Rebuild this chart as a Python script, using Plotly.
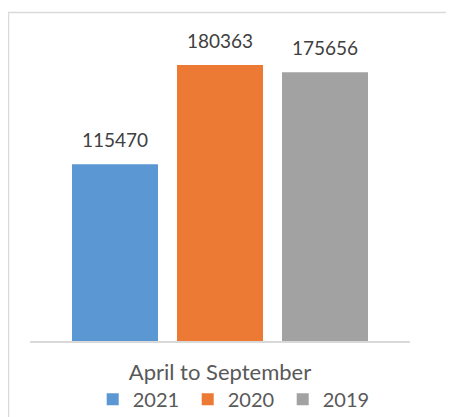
import plotly.graph_objects as go

category = ["April to September"]
series_names = ["2021", "2020", "2019"]
values_2021 = [115470]
values_2020 = [180363]
values_2019 = [175656]
series_values = [values_2021, values_2020, values_2019]
colors = ["#5b97d2", "#ec7a34", "#a2a2a2"]

FONT = "Lato, Carlito, Calibri, sans-serif"

fig = go.Figure()
for name, vals, col in zip(series_names, series_values, colors):
    fig.add_trace(go.Bar(
        x=category, y=vals, name=name,
        marker=dict(color=col, line=dict(width=0)),
    ))

# data labels above bars
offsets = [-105, 0, 105]
for vals, dx in zip(series_values, offsets):
    for c, v in zip(category, vals):
        fig.add_annotation(
            x=c, y=v, text=str(v), showarrow=False,
            xshift=dx, yshift=25, yanchor="middle",
            font=dict(family=FONT, size=19, color="#404040"),
        )

# chart border
fig.add_shape(type="rect", xref="paper", yref="paper",
              x0=-0.0566, x1=2, y0=-2, y1=1.0735,
              line=dict(color="#d9d9d9", width=1.5), fillcolor="rgba(0,0,0,0)")

fig.update_layout(
    width=446, height=409, autosize=False,
    margin=dict(l=22, r=44, t=27, b=76, autoexpand=False),
    paper_bgcolor="white", plot_bgcolor="white",
    barmode="group", bargap=0.171, bargroupgap=0.181,
    font=dict(family=FONT, size=20, color="#595959"),
    showlegend=True,
    legend=dict(orientation="h", x=0.54, xanchor="center", y=-0.19, yanchor="middle",
                entrywidth=50, entrywidthmode="pixels", tracegroupgap=0,
                font=dict(family=FONT, size=20, color="#595959"),
                bgcolor="rgba(0,0,0,0)"),
)
fig.update_xaxes(showline=True, linecolor="#d9d9d9", linewidth=2, showgrid=False,
                 ticks="", ticklabelstandoff=11, automargin=False,
                 tickfont=dict(family=FONT, size=22, color="#595959"))
fig.update_yaxes(range=[0, 200000], visible=False, showgrid=False, zeroline=False,
                 automargin=False)

fig.write_html("out.html")
